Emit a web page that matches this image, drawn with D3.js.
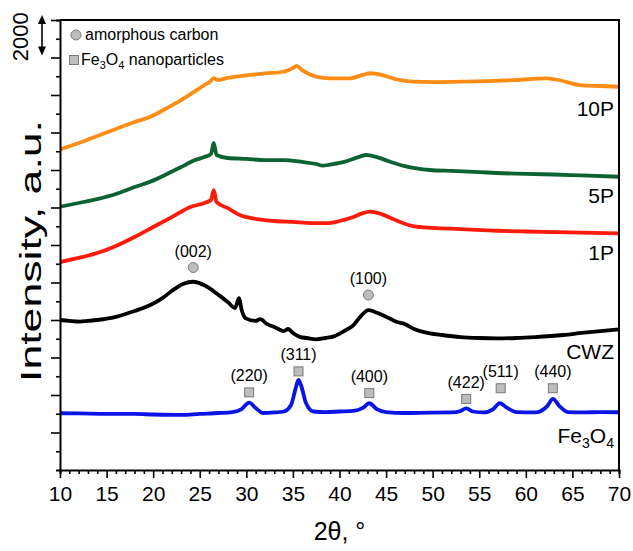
<!DOCTYPE html>
<html>
<head>
<meta charset="utf-8">
<script src="https://cdn.jsdelivr.net/npm/d3@7"></script>
<style>
  body { margin: 0; background: #fff; }
  svg text { font-family: "Liberation Sans", Arial, sans-serif; fill: #000; }
</style>
</head>
<body>
<div id="chart"></div>
<script>
// 2theta values (deg) and plotted intensities (counts, already offset per sample)
var fe3o4_x = [10,12,15,18,20,23,25,27,28.5,29.5,30.3,31,31.8,33,34,34.8,35.3,35.6,35.9,36.4,37.2,38.5,40,41.5,42.5,43.2,44,45,47,49.7,52,53,53.6,54.3,55.5,56.5,57.2,58,59,61,62.3,62.9,63.6,64.5,66,68,70];
var fe3o4_y = [3026,3015,2990,2990,2960,2935,2990,3040,3090,3250,3590,3310,3040,3070,3120,3470,4370,4800,4480,3570,3120,3090,3120,3150,3310,3560,3250,3090,3040,3060,3070,3150,3290,3120,3070,3250,3560,3310,3090,3070,3410,3790,3410,3090,3070,3090,3080];

var cwz_x = [10,11,12.1,13,14,16.1,18,19.7,21,22,23.2,24.3,25.5,26.8,28,28.8,29.2,29.5,29.9,31,31.5,32.2,33,34,34.5,35,35.8,36.5,37.5,38.5,39.3,40.5,41.5,42.3,43.1,43.8,44.6,45.5,46.1,47,48,49.7,51,53,55,56.9,59,61,64,66,68,70];
var cwz_y = [8000,7950,7910,7950,8000,8180,8480,8800,9170,9550,9920,10040,9850,9420,8960,8640,9160,8530,8100,7950,8050,7790,7630,7410,7520,7310,7090,7040,6970,7040,7110,7410,7730,8210,8530,8430,8270,8050,7910,7790,7520,7290,7200,7090,7040,7020,7040,7090,7200,7310,7410,7500];

var p1_x = [10,12,14,16,18,20,22,24,25.5,26.2,26.5,26.8,28,29.3,31,33,35,37,38.7,40,41.5,42.5,43.3,44.5,46,47.9,50,53,56.9,60,63,66,70];
var p1_y = [11090,11310,11570,11950,12430,12960,13490,14030,14240,14400,14930,14290,13970,13600,13390,13280,13230,13170,13170,13280,13490,13700,13780,13650,13330,13010,12910,12850,12760,12720,12690,12660,12620];

var p5_x = [10,12,14,16,18,19.7,21.5,23,24.5,25.5,26.2,26.5,26.8,28,30,32,34,36,37.5,38.2,39,40.5,42,42.9,44,45.5,47,49.7,52,55,56.9,60,63,66,70];
var p5_y = [14040,14240,14450,14720,15090,15380,15790,16160,16530,16690,16850,17440,16800,16640,16590,16530,16530,16430,16320,16230,16290,16430,16690,16800,16690,16430,16210,16000,15950,15890,15840,15790,15760,15710,15640];

var p10_x = [10,12,14,16,18,19.7,21.5,23,24.5,25.5,26.1,26.5,26.9,28,30.4,32,34,35,35.4,36,37.5,39,41.1,42.5,43.3,44.5,46,47.9,50,53.3,56,59,62.2,63.5,65.8,68,70];
var p10_y = [17100,17440,17810,18190,18560,18840,19310,19730,20210,20530,20710,20900,20800,20910,21070,21150,21240,21440,21550,21330,20980,20890,20890,21070,21160,21070,20850,20710,20690,20710,20740,20800,20890,20800,20530,20480,20440];

var sampleNames = ["Fe3O4", "CWZ", "1P", "5P", "10P"];
var sampleColors = ["#0a14e6", "#000000", "#ff1a0a", "#0c6232", "#ff8c14"];

var peakLabels = ["(002)", "(100)", "(220)", "(311)", "(400)", "(422)", "(511)", "(440)"];
var peakPos = [24.3, 43.1, 30.3, 35.6, 43.2, 53.6, 57.3, 62.9];
var peakMarkY = [10800, 9330, 4140, 5260, 4100, 3790, 4360, 4360];
var peakShape = ["circle", "circle", "square", "square", "square", "square", "square", "square"];

var xTicks = [10,15,20,25,30,35,40,45,50,55,60,65,70];

var width = 633, height = 551;
var margin = {left: 60, right: 14, top: 20, bottom: 81};

var svg = d3.select("#chart").append("svg")
    .attr("width", width)
    .attr("height", height);

var x = d3.scaleLinear().domain([10, 70]).range([margin.left, width - margin.right]);
var y = d3.scaleLinear().domain([0, 24000]).range([height - margin.bottom, margin.top]);

var x0 = x.range()[0], x1 = x.range()[1], y0 = y.range()[0], y1 = y.range()[1];

// curves
var series = [
    {x: fe3o4_x, y: fe3o4_y},
    {x: cwz_x, y: cwz_y},
    {x: p1_x, y: p1_y},
    {x: p5_x, y: p5_y},
    {x: p10_x, y: p10_y}
];
var line = d3.line()
    .x(function(d){ return x(d[0]); })
    .y(function(d){ return y(d[1]); })
    .curve(d3.curveMonotoneX);

series.forEach(function(s, i){
    var pts = s.x.map(function(v, k){ return [v, s.y[k]]; });
    svg.append("path")
        .attr("d", line(pts))
        .attr("fill", "none")
        .attr("stroke", sampleColors[i])
        .attr("stroke-width", 3.8)
        .attr("stroke-linejoin", "round");
});

// frame
svg.append("path")
    .attr("d", "M" + x0 + "," + y1 + "H" + x1 + "V" + y0)
    .attr("fill", "none").attr("stroke", "#000").attr("stroke-width", 2);

// x axis
var xAxis = svg.append("g").attr("transform", "translate(0," + y0 + ")");
xAxis.call(d3.axisBottom(x).tickValues(d3.range(10, 71, 1)).tickSize(4).tickFormat(""));
xAxis.selectAll(".tick").filter(function(d){ return xTicks.indexOf(d) >= 0; })
    .select("line").attr("y2", 8);
xAxis.selectAll("line").attr("stroke-width", 1.6);
xAxis.select(".domain").attr("stroke-width", 2);
xAxis.selectAll(".tick").filter(function(d){ return xTicks.indexOf(d) >= 0; })
    .append("text")
    .attr("y", 31)
    .attr("text-anchor", "middle")
    .style("font-size", "21px")
    .text(function(d){ return d; });

// y axis (no labels)
var yAxis = svg.append("g").attr("transform", "translate(" + x0 + ",0)");
yAxis.call(d3.axisLeft(y).tickValues(d3.range(1000, 24001, 1000)).tickSize(4).tickFormat(""));
yAxis.selectAll(".tick").filter(function(d){ return d % 2000 === 0; })
    .select("line").attr("x2", -9);
yAxis.selectAll("line").attr("stroke-width", 1.6);
yAxis.select(".domain").attr("stroke-width", 2);

// titles
svg.append("text")
    .attr("x", (x0 + x1) / 2)
    .attr("y", 540)
    .attr("text-anchor", "middle")
    .style("font-size", "25px")
    .text("2θ, °");

svg.append("text")
    .attr("transform", "translate(41,251) rotate(-90)")
    .attr("text-anchor", "middle")
    .attr("textLength", 262)
    .attr("lengthAdjust", "spacingAndGlyphs")
    .style("font-size", "30px")
    .text("Intensity, a.u.");

// scale bar 2000
svg.append("text")
    .attr("transform", "translate(28," + ((y(24000) + y(22000)) / 2 - 2) + ") rotate(-90)")
    .attr("text-anchor", "middle")
    .style("font-size", "22px")
    .text("2000");

var ax = 42, ayTop = y(24000) - 5, ayBot = y(22000) - 2;
svg.append("line").attr("x1", ax).attr("x2", ax).attr("y1", ayTop + 6).attr("y2", ayBot - 6)
    .attr("stroke", "#000").attr("stroke-width", 1.6);
svg.append("path").attr("d", "M" + ax + "," + ayTop + "l-4,9h8z").attr("fill", "#000");
svg.append("path").attr("d", "M" + ax + "," + ayBot + "l-4,-9h8z").attr("fill", "#000");

// sample labels
var nameY = [443, 359, 260, 203, 116];
sampleNames.forEach(function(n, i){
    var t = svg.append("text")
        .attr("x", 614)
        .attr("y", nameY[i])
        .attr("text-anchor", "end")
        .style("font-size", "21px");
    if (n === "Fe3O4") {
        t.append("tspan").text("Fe");
        t.append("tspan").attr("dy", 5).style("font-size", "14px").text("3");
        t.append("tspan").attr("dy", -5).text("O");
        t.append("tspan").attr("dy", 5).style("font-size", "14px").text("4");
    } else {
        t.text(n);
    }
});

// peak markers
function drawMarker(shape, cx, cy) {
    if (shape === "circle") {
        svg.append("circle").attr("cx", cx).attr("cy", cy).attr("r", 5)
            .attr("fill", "#bdbdbd").attr("stroke", "#7a7a7a").attr("stroke-width", 1);
    } else {
        svg.append("rect").attr("x", cx - 4.5).attr("y", cy - 4.5).attr("width", 9).attr("height", 9)
            .attr("fill", "#bdbdbd").attr("stroke", "#7a7a7a").attr("stroke-width", 1);
    }
}
peakLabels.forEach(function(lab, i){
    var cx = x(peakPos[i]), cy = y(peakMarkY[i]);
    drawMarker(peakShape[i], cx, cy);
    svg.append("text")
        .attr("x", cx)
        .attr("y", cy - 11)
        .attr("text-anchor", "middle")
        .style("font-size", "16px")
        .text(lab);
});

// legend
drawMarker("circle", 76, 35);
svg.append("text").attr("x", 85).attr("y", 40).style("font-size", "16px").text("amorphous carbon");
drawMarker("square", 74, 60);
var lt = svg.append("text").attr("x", 81).attr("y", 65).style("font-size", "16px");
lt.append("tspan").text("Fe");
lt.append("tspan").attr("dy", 4).style("font-size", "11px").text("3");
lt.append("tspan").attr("dy", -4).text("O");
lt.append("tspan").attr("dy", 4).style("font-size", "11px").text("4");
lt.append("tspan").attr("dy", -4).text(" nanoparticles");
</script>
</body>
</html>
